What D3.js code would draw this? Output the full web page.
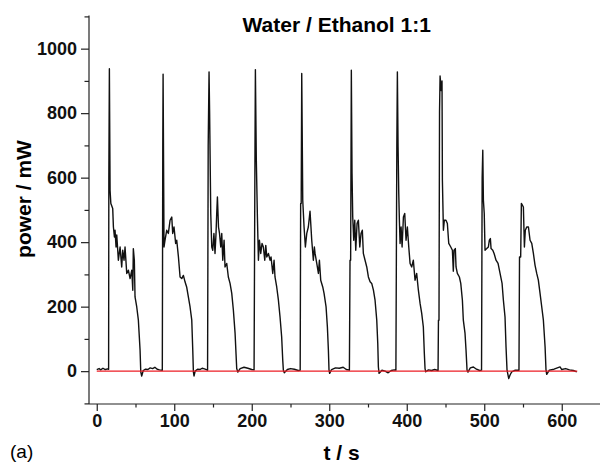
<!DOCTYPE html>
<html lang="en">
<head>
    <meta charset="UTF-8">
    <title>Water / Ethanol 1:1</title>
    <style>
        body { margin: 0; background: #fff; }
        svg { display: block; font-family: "Liberation Sans", Arial, sans-serif; }
        .axis path, .axis line { stroke: #222; stroke-width: 1.2; }
        .axis text { font-size: 18px; font-weight: bold; fill: #111; }
    </style>
</head>
<body>
    <div id="chart"></div>
    <script src="https://d3js.org/d3.v7.min.js"></script>
    <script>
        // [t (s), power (mW)], one array per heating cycle
        const cycle0 = [[0,5],[3,8],[5,4],[8,9],[11,5],[14,7],[15.3,6]];
        const cycle1 = [[15.6,600],[16.3,938],[17.2,560],[18.2,520],[20.6,504],[21.5,447],[22.8,416],[23.6,437],[24.9,385],[25.8,422],[27.9,344],[30.1,385],[32.2,323],[33.5,375],[35.2,344],[36.5,385],[38.7,303],[40.8,313],[43,287],[45.2,313],[46.5,251],[47.2,380],[48.5,344],[49.4,230],[51.6,199],[53.7,158],[55.9,65],[56.8,-2],[58,-15],[60,2],[63,6],[66,5],[69,10],[72,8],[75,12],[78,6],[81,4],[84.6,3]];
        const cycle2 = [[85.2,700],[85.6,921],[86.8,385],[88.1,406],[90.3,437],[92.4,427],[94.6,468],[96.8,478],[98,427],[99.7,447],[101.8,396],[103.2,406],[105.4,354],[107.5,292],[109.7,287],[111.8,297],[113.9,277],[116,261],[118.2,230],[120.4,199],[122.6,158],[123.9,65],[124.7,-2],[125.5,-15],[127,0],[130,6],[133,5],[136,9],[139,7],[143,3]];
        const cycle3 = [[143.8,700],[144.9,928],[145.6,809],[147.1,489],[148.4,385],[149.7,375],[151.2,427],[152.6,365],[153.9,427],[154.8,489],[155.7,540],[157.1,447],[158.4,427],[160,385],[161.3,427],[162.6,344],[164.3,406],[165.5,323],[167.7,334],[169.8,292],[172,272],[174.2,241],[176.3,189],[178.5,117],[179.7,55],[180.6,8],[182,-3],[185,8],[190,12],[195,9],[200,5],[203,4]];
        const cycle4 = [[204.2,700],[204.7,935],[205.9,654],[207.3,478],[208.6,344],[209.9,406],[211.6,365],[213.3,396],[215,385],[216.8,344],[218.1,390],[219.4,354],[221.5,365],[223.6,344],[224.9,354],[227.1,303],[228.8,344],[230,292],[232.2,261],[234.4,220],[236.5,168],[238.6,106],[240,34],[240.8,3],[242,-5],[246,5],[250,8],[255,6],[260,2],[262.5,3]];
        const cycle5 = [[263.1,520],[263.8,520],[264.5,923],[265.8,530],[267.5,447],[269.2,385],[271,427],[273,447],[275.2,496],[277.4,406],[279.5,344],[280.8,385],[281.7,365],[283.9,334],[286,303],[287.3,344],[289,282],[291.6,261],[293.3,241],[295.9,199],[297.6,137],[298.9,65],[299.7,3],[300.5,-7],[303,5],[308,10],[313,9],[318,12],[322,5],[326,3]];
        const cycle6 = [[326.8,344],[327.6,344],[328.5,933],[329.4,613],[330.3,478],[331.6,406],[332.9,468],[334.2,375],[335.9,458],[337.6,468],[339.4,385],[341,427],[342.7,437],[344,365],[346.2,344],[348.4,323],[350.5,292],[352.7,277],[354.8,272],[357,251],[359.1,220],[361.3,158],[362.6,86],[363.4,13],[364.3,-7],[368,3],[372,0],[376,-5],[380,2],[384,4],[386,3]];
        const cycle7 = [[387.2,700],[387.9,928],[388.8,696],[389.7,551],[390.5,468],[391.4,396],[392.7,447],[394,385],[395.7,478],[397.4,489],[399.1,406],[400.8,447],[402.6,385],[404.3,334],[406.4,323],[408.5,344],[410.7,282],[412.8,303],[415,251],[417.2,210],[419.3,179],[421.4,137],[422.7,55],[423.6,8],[424.5,-2],[428,4],[432,2],[436,5],[440.4,2]];
        const cycle8 = [[440.9,158],[441.6,158],[442.3,804],[443,915],[444.5,870],[445.5,900],[446,592],[447.3,437],[448.5,468],[450.6,468],[452.4,458],[454.2,396],[456.8,385],[458.9,375],[460.1,310],[461,375],[462.7,380],[463.6,323],[465.3,303],[467.9,292],[469.7,272],[471.8,220],[473,158],[475.2,117],[476.5,65],[477.8,3],[479,-3],[482,10],[486,13],[490,6],[494,2],[496.5,3]];
        const cycle9 = [[497.3,600],[498.1,685],[498.9,530],[500,489],[501,375],[503.2,380],[505.3,385],[506.6,406],[507.9,411],[508.8,380],[511,375],[512.7,365],[515.2,344],[517.8,334],[520.4,303],[523,272],[524.7,220],[526.8,168],[528.1,75],[529.4,3],[531.6,-23],[533.3,-12],[535.5,-2],[540,3],[544.8,3]];
        const cycle10 = [[545.5,354],[547,354],[547.9,520],[550.5,509],[551.8,385],[553,437],[554.8,447],[557,447],[559.1,406],[561.3,396],[563.4,365],[565.5,329],[567.7,303],[569.8,282],[572,241],[574.2,199],[576.3,158],[578.5,75],[579.7,3],[580.6,-10],[584,3],[590,6],[597.8,13],[600,5],[605,8],[610,4],[615,2],[619.4,-2]];

        const zeroLine = [[0,0],[620,0]];
        const yMajor = [0, 200, 400, 600, 800, 1000];
        const yMinor = [-100, 100, 300, 500, 700, 900, 1100];
        const xMajor = [0, 100, 200, 300, 400, 500, 600];
        const xMinor = [50, 150, 250, 350, 450, 550];

        const series = [].concat(cycle0, cycle1, cycle2, cycle3, cycle4, cycle5,
                                 cycle6, cycle7, cycle8, cycle9, cycle10);

        const width = 600, height = 465;

        const svg = d3.select("#chart")
            .append("svg")
            .attr("width", width)
            .attr("height", height);

        const x = d3.scaleLinear().domain([-10, 650]).range([89, 600.5]);
        const y = d3.scaleLinear().domain([-100, 1100]).range([403.4, 16.4]);
        const axisY = 404;

        // minor ticks first, no labels
        svg.append("g")
            .attr("class", "axis")
            .attr("transform", `translate(89,0)`)
            .call(d3.axisLeft(y).tickValues(yMinor).tickSize(4.5).tickFormat(""))
            .select(".domain").remove();

        svg.append("g")
            .attr("class", "axis")
            .attr("transform", `translate(0,${axisY})`)
            .call(d3.axisBottom(x).tickValues(xMinor).tickSize(3.5).tickFormat(""))
            .select(".domain").remove();

        svg.append("g")
            .attr("class", "axis")
            .attr("transform", `translate(89,0)`)
            .call(d3.axisLeft(y).tickValues(yMajor).tickSize(8).tickPadding(4)
                .tickFormat(d3.format("d")));

        svg.append("g")
            .attr("class", "axis")
            .attr("transform", `translate(0,${axisY})`)
            .call(d3.axisBottom(x).tickValues(xMajor).tickSize(7).tickPadding(3)
                .tickFormat(d3.format("d")));

        // stretch axis lines to the frame ends
        svg.selectAll(".axis .domain").remove();
        svg.append("line").attr("x1", 89).attr("x2", 89).attr("y1", 15.5).attr("y2", axisY)
            .attr("stroke", "#222").attr("stroke-width", 1.2);
        svg.append("line").attr("x1", 89).attr("x2", 600).attr("y1", axisY).attr("y2", axisY)
            .attr("stroke", "#222").attr("stroke-width", 1.2);

        const line = d3.line().x(d => x(d[0])).y(d => y(d[1]));

        svg.append("path")
            .datum(series)
            .attr("fill", "none")
            .attr("stroke", "#111")
            .attr("stroke-width", 1.4)
            .attr("stroke-linejoin", "round")
            .attr("d", line);

        svg.append("path")
            .datum(zeroLine)
            .attr("fill", "none")
            .attr("stroke", "#ec1c24")
            .attr("stroke-width", 1.2)
            .attr("d", line);

        svg.append("text")
            .attr("x", 336.7).attr("y", 32)
            .attr("text-anchor", "middle")
            .attr("font-size", 21).attr("font-weight", "bold")
            .text("Water / Ethanol 1:1");

        svg.append("text")
            .attr("x", 341.5).attr("y", 460)
            .attr("text-anchor", "middle")
            .attr("font-size", 21).attr("font-weight", "bold")
            .text("t / s");

        svg.append("text")
            .attr("transform", "translate(31,199) rotate(-90)")
            .attr("text-anchor", "middle")
            .attr("font-size", 21).attr("font-weight", "bold")
            .text("power / mW");

        svg.append("text")
            .attr("x", 10).attr("y", 458)
            .attr("font-size", 19)
            .text("(a)");
    </script>
</body>
</html>
